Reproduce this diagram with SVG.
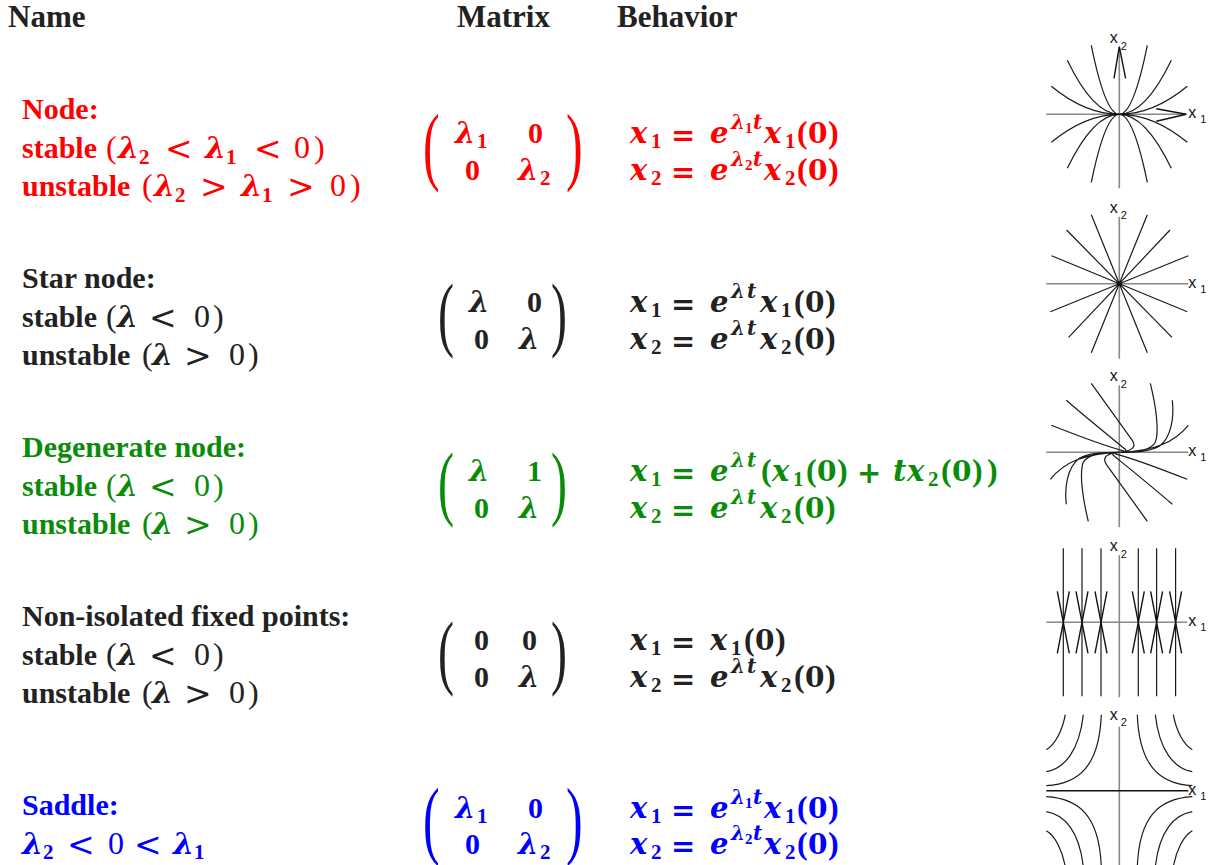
<svg xmlns="http://www.w3.org/2000/svg" width="1211" height="865" viewBox="0 0 1211 865">
<style>
.hd{font-family:"Liberation Serif",serif;font-weight:bold;font-size:31px;fill:#222}
.tx{font-family:"Liberation Serif",serif;font-weight:bold;font-size:30px}
.v{font-family:"DejaVu Serif",serif;font-weight:bold;font-style:italic;font-size:29px}
.vn{font-size:30px}
.vs{font-size:20px}
.op{font-family:"DejaVu Serif",serif;font-weight:bold;font-size:29px}
.z{font-family:"DejaVu Serif",serif;font-weight:bold;font-size:28px}
.rel{font-family:"DejaVu Serif",serif;font-weight:normal;font-size:33px}
.rg{font-weight:normal}
.pn{font-weight:normal;font-size:32px}
.bp{font-size:32px}
.s{font-size:21px}
.ss{font-size:15px}
.big{font-family:"Liberation Serif",serif;font-weight:normal;font-size:50px}
.sm{font-family:"Liberation Serif",serif;font-weight:normal;font-size:48px}
.red{fill:#ff0000}
.blk{fill:#222222}
.grn{fill:#0a8c0a}
.blu{fill:#0000ff}
.cv{fill:none;stroke:#1a1a1a;stroke-width:1.2}
.ar{fill:none;stroke:#111;stroke-width:1.4}
.ax{fill:none;stroke:#888;stroke-width:1.6}
.axk{fill:none;stroke:#111;stroke-width:1.4}
.lb{font-family:"Liberation Sans",sans-serif;font-size:16px;fill:#111}
.lbs{font-family:"Liberation Sans",sans-serif;font-size:11px;fill:#111}
</style>

<g id="header">
<text class="hd" x="8" y="27">Name</text>
<text class="hd" x="457" y="27">Matrix</text>
<text class="hd" x="617" y="27">Behavior</text>
</g>

<!-- Row 1: Node -->
<g id="row-node">
<text class="tx red" x="22" y="119">Node:</text>
<text class="tx red"><tspan x="22" y="158">stable</tspan><tspan class="pn" x="106" y="158">(</tspan><tspan class="v vn" x="118" y="158">λ</tspan><tspan class="s" x="139" y="164">2</tspan><tspan class="rel" x="165" y="160">&lt;</tspan><tspan class="v vn" x="205" y="158">λ</tspan><tspan class="s" x="226" y="164">1</tspan><tspan class="rel" x="254" y="160">&lt;</tspan><tspan class="rg" font-size="32" x="294" y="158">0</tspan><tspan class="pn" x="314" y="158">)</tspan></text>
<text class="tx red"><tspan x="22" y="196">unstable</tspan><tspan class="pn" x="142" y="196">(</tspan><tspan class="v vn" x="154" y="196">λ</tspan><tspan class="s" x="175" y="202">2</tspan><tspan class="rel" x="200" y="198">&gt;</tspan><tspan class="v vn" x="241" y="196">λ</tspan><tspan class="s" x="262" y="202">1</tspan><tspan class="rel" x="287" y="198">&gt;</tspan><tspan class="rg" font-size="32" x="330" y="196">0</tspan><tspan class="pn" x="350" y="196">)</tspan></text>
<text class="big red" transform="translate(423,173.7) scale(1,1.75)">(</text>
<text class="big red" transform="translate(566,173.7) scale(1,1.75)">)</text>
<text class="tx red"><tspan class="v" x="455" y="143">λ</tspan><tspan class="s" x="477" y="148">1</tspan><tspan x="528" y="143">0</tspan></text>
<text class="tx red"><tspan x="465" y="180">0</tspan><tspan class="v" x="518" y="180">λ</tspan><tspan class="s" x="540" y="185">2</tspan></text>
<text class="tx red"><tspan class="v" x="630" y="143">x</tspan><tspan class="s" x="651" y="148">1</tspan><tspan class="op" x="671" y="145">=</tspan><tspan class="v" x="710" y="143">e</tspan><tspan class="v vs" x="731" y="129">λ</tspan><tspan class="ss" x="745" y="133">1</tspan><tspan class="v vs" x="753" y="129">t</tspan><tspan class="v" x="764" y="143">x</tspan><tspan class="s" x="785" y="148">1</tspan><tspan class="bp" x="797" y="143">(</tspan><tspan class="z" x="808" y="143">0</tspan><tspan class="bp" x="828" y="143">)</tspan></text>
<text class="tx red"><tspan class="v" x="630" y="180">x</tspan><tspan class="s" x="651" y="185">2</tspan><tspan class="op" x="671" y="182">=</tspan><tspan class="v" x="710" y="180">e</tspan><tspan class="v vs" x="731" y="166">λ</tspan><tspan class="ss" x="745" y="170">2</tspan><tspan class="v vs" x="753" y="166">t</tspan><tspan class="v" x="764" y="180">x</tspan><tspan class="s" x="785" y="185">2</tspan><tspan class="bp" x="797" y="180">(</tspan><tspan class="z" x="808" y="180">0</tspan><tspan class="bp" x="828" y="180">)</tspan></text>
</g>

<!-- Row 2: Star node -->
<g id="row-star">
<text class="tx blk" x="22" y="288">Star node:</text>
<text class="tx blk"><tspan x="22" y="327">stable</tspan><tspan class="pn" x="106" y="327">(</tspan><tspan class="v vn" x="117" y="327">λ</tspan><tspan class="rel" x="149" y="329">&lt;</tspan><tspan class="rg" font-size="32" x="194" y="327">0</tspan><tspan class="pn" x="213" y="327">)</tspan></text>
<text class="tx blk"><tspan x="22" y="365">unstable</tspan><tspan class="pn" x="142" y="365">(</tspan><tspan class="v vn" x="152" y="365">λ</tspan><tspan class="rel" x="184" y="367">&gt;</tspan><tspan class="rg" font-size="32" x="229" y="365">0</tspan><tspan class="pn" x="248" y="365">)</tspan></text>
<text class="sm blk" transform="translate(438,340.6) scale(1,1.7)">(</text>
<text class="sm blk" transform="translate(551,340.6) scale(1,1.7)">)</text>
<text class="tx blk"><tspan class="v" x="469" y="312">λ</tspan><tspan x="527" y="312">0</tspan></text>
<text class="tx blk"><tspan x="474" y="349">0</tspan><tspan class="v" x="519" y="349">λ</tspan></text>
<text class="tx blk"><tspan class="v" x="630" y="312">x</tspan><tspan class="s" x="651" y="317">1</tspan><tspan class="op" x="671" y="314">=</tspan><tspan class="v" x="710" y="312">e</tspan><tspan class="v vs" x="731" y="298">λ</tspan><tspan class="v vs" x="747" y="298">t</tspan><tspan class="v" x="760" y="312">x</tspan><tspan class="s" x="781" y="317">1</tspan><tspan class="bp" x="794" y="312">(</tspan><tspan class="z" x="805" y="312">0</tspan><tspan class="bp" x="825" y="312">)</tspan></text>
<text class="tx blk"><tspan class="v" x="630" y="349">x</tspan><tspan class="s" x="651" y="354">2</tspan><tspan class="op" x="671" y="351">=</tspan><tspan class="v" x="710" y="349">e</tspan><tspan class="v vs" x="731" y="335">λ</tspan><tspan class="v vs" x="747" y="335">t</tspan><tspan class="v" x="760" y="349">x</tspan><tspan class="s" x="781" y="354">2</tspan><tspan class="bp" x="794" y="349">(</tspan><tspan class="z" x="805" y="349">0</tspan><tspan class="bp" x="825" y="349">)</tspan></text>
</g>

<!-- Row 3: Degenerate node -->
<g id="row-degenerate">
<text class="tx grn" x="22" y="457">Degenerate node:</text>
<text class="tx grn"><tspan x="22" y="496">stable</tspan><tspan class="pn" x="106" y="496">(</tspan><tspan class="v vn" x="117" y="496">λ</tspan><tspan class="rel" x="149" y="498">&lt;</tspan><tspan class="rg" font-size="32" x="194" y="496">0</tspan><tspan class="pn" x="213" y="496">)</tspan></text>
<text class="tx grn"><tspan x="22" y="534">unstable</tspan><tspan class="pn" x="142" y="534">(</tspan><tspan class="v vn" x="152" y="534">λ</tspan><tspan class="rel" x="184" y="536">&gt;</tspan><tspan class="rg" font-size="32" x="229" y="534">0</tspan><tspan class="pn" x="248" y="534">)</tspan></text>
<text class="sm grn" transform="translate(438,509.6) scale(1,1.7)">(</text>
<text class="sm grn" transform="translate(551,509.6) scale(1,1.7)">)</text>
<text class="tx grn"><tspan class="v" x="469" y="481">λ</tspan><tspan x="527" y="481">1</tspan></text>
<text class="tx grn"><tspan x="474" y="518">0</tspan><tspan class="v" x="519" y="518">λ</tspan></text>
<text class="tx grn"><tspan class="v" x="630" y="481">x</tspan><tspan class="s" x="651" y="486">1</tspan><tspan class="op" x="671" y="483">=</tspan><tspan class="v" x="710" y="481">e</tspan><tspan class="v vs" x="731" y="467">λ</tspan><tspan class="v vs" x="747" y="467">t</tspan><tspan class="bp" x="761" y="481">(</tspan><tspan class="v" x="772" y="481">x</tspan><tspan class="s" x="793" y="486">1</tspan><tspan class="bp" x="806" y="481">(</tspan><tspan class="z" x="817" y="481">0</tspan><tspan class="bp" x="837" y="481">)</tspan><tspan class="op" x="857" y="483">+</tspan><tspan class="v" x="893" y="481">t</tspan><tspan class="v" x="907" y="481">x</tspan><tspan class="s" x="928" y="486">2</tspan><tspan class="bp" x="941" y="481">(</tspan><tspan class="z" x="952" y="481">0</tspan><tspan class="bp" x="972" y="481">)</tspan><tspan class="bp" x="987" y="481">)</tspan></text>
<text class="tx grn"><tspan class="v" x="630" y="518">x</tspan><tspan class="s" x="651" y="523">2</tspan><tspan class="op" x="671" y="520">=</tspan><tspan class="v" x="710" y="518">e</tspan><tspan class="v vs" x="731" y="504">λ</tspan><tspan class="v vs" x="747" y="504">t</tspan><tspan class="v" x="760" y="518">x</tspan><tspan class="s" x="781" y="523">2</tspan><tspan class="bp" x="794" y="518">(</tspan><tspan class="z" x="805" y="518">0</tspan><tspan class="bp" x="825" y="518">)</tspan></text>
</g>

<!-- Row 4: Non-isolated fixed points -->
<g id="row-nonisolated">
<text class="tx blk" x="22" y="626">Non-isolated fixed points:</text>
<text class="tx blk"><tspan x="22" y="665">stable</tspan><tspan class="pn" x="106" y="665">(</tspan><tspan class="v vn" x="117" y="665">λ</tspan><tspan class="rel" x="149" y="667">&lt;</tspan><tspan class="rg" font-size="32" x="194" y="665">0</tspan><tspan class="pn" x="213" y="665">)</tspan></text>
<text class="tx blk"><tspan x="22" y="703">unstable</tspan><tspan class="pn" x="142" y="703">(</tspan><tspan class="v vn" x="152" y="703">λ</tspan><tspan class="rel" x="184" y="705">&gt;</tspan><tspan class="rg" font-size="32" x="229" y="703">0</tspan><tspan class="pn" x="248" y="703">)</tspan></text>
<text class="sm blk" transform="translate(438,678.6) scale(1,1.7)">(</text>
<text class="sm blk" transform="translate(551,678.6) scale(1,1.7)">)</text>
<text class="tx blk"><tspan x="474" y="650">0</tspan><tspan x="522" y="650">0</tspan></text>
<text class="tx blk"><tspan x="474" y="687">0</tspan><tspan class="v" x="519" y="687">λ</tspan></text>
<text class="tx blk"><tspan class="v" x="630" y="650">x</tspan><tspan class="s" x="651" y="655">1</tspan><tspan class="op" x="671" y="652">=</tspan><tspan class="v" x="710" y="650">x</tspan><tspan class="s" x="731" y="655">1</tspan><tspan class="bp" x="744" y="650">(</tspan><tspan class="z" x="755" y="650">0</tspan><tspan class="bp" x="775" y="650">)</tspan></text>
<text class="tx blk"><tspan class="v" x="630" y="687">x</tspan><tspan class="s" x="651" y="692">2</tspan><tspan class="op" x="671" y="689">=</tspan><tspan class="v" x="710" y="687">e</tspan><tspan class="v vs" x="731" y="673">λ</tspan><tspan class="v vs" x="747" y="673">t</tspan><tspan class="v" x="760" y="687">x</tspan><tspan class="s" x="781" y="692">2</tspan><tspan class="bp" x="794" y="687">(</tspan><tspan class="z" x="805" y="687">0</tspan><tspan class="bp" x="825" y="687">)</tspan></text>
</g>

<!-- Row 5: Saddle -->
<g id="row-saddle">
<text class="tx blu" x="22" y="815">Saddle:</text>
<text class="tx blu"><tspan class="v vn" x="22" y="854">λ</tspan><tspan class="s" x="43" y="859">2</tspan><tspan class="rel" x="67" y="856">&lt;</tspan><tspan class="rg" font-size="32" x="108" y="854">0</tspan><tspan class="rel" x="134" y="856">&lt;</tspan><tspan class="v vn" x="173" y="854">λ</tspan><tspan class="s" x="194" y="859">1</tspan></text>
<text class="big blu" transform="translate(423,847.5) scale(1,1.75)">(</text>
<text class="big blu" transform="translate(566,847.5) scale(1,1.75)">)</text>
<text class="tx blu"><tspan class="v" x="455" y="818">λ</tspan><tspan class="s" x="477" y="823">1</tspan><tspan x="528" y="818">0</tspan></text>
<text class="tx blu"><tspan x="465" y="854">0</tspan><tspan class="v" x="518" y="854">λ</tspan><tspan class="s" x="540" y="859">2</tspan></text>
<text class="tx blu"><tspan class="v" x="630" y="818">x</tspan><tspan class="s" x="651" y="823">1</tspan><tspan class="op" x="671" y="820">=</tspan><tspan class="v" x="710" y="818">e</tspan><tspan class="v vs" x="731" y="804">λ</tspan><tspan class="ss" x="745" y="808">1</tspan><tspan class="v vs" x="753" y="804">t</tspan><tspan class="v" x="764" y="818">x</tspan><tspan class="s" x="785" y="823">1</tspan><tspan class="bp" x="797" y="818">(</tspan><tspan class="z" x="808" y="818">0</tspan><tspan class="bp" x="828" y="818">)</tspan></text>
<text class="tx blu"><tspan class="v" x="630" y="854">x</tspan><tspan class="s" x="651" y="859">2</tspan><tspan class="op" x="671" y="856">=</tspan><tspan class="v" x="710" y="854">e</tspan><tspan class="v vs" x="731" y="840">λ</tspan><tspan class="ss" x="745" y="844">2</tspan><tspan class="v vs" x="753" y="840">t</tspan><tspan class="v" x="764" y="854">x</tspan><tspan class="s" x="785" y="859">2</tspan><tspan class="bp" x="797" y="854">(</tspan><tspan class="z" x="808" y="854">0</tspan><tspan class="bp" x="828" y="854">)</tspan></text>
</g>

<!-- Phase portraits -->
<g id="portrait-node" transform="translate(1119.3,114.3)">
<path class="ax" d="M-73,0 H67 M0,-67 V74"/>
<path class="cv" d="M-28,-69 Q0,69 28,-69 M-52,-54 Q0,54 52,-54 M-68,-28 Q0,28 68,-28 M-28,68 Q0,-68 28,68 M-52,54 Q0,-54 52,54 M-68,28 Q0,-28 68,28"/>
<path class="axk" stroke-width="2.5" d="M-7,0 H6"/>
<path class="ar" d="M37,-5.5 L67,0 L37,7 M-5.3,-36 L0,-67.7 L6.3,-36"/>
<text class="lb" x="-9.5" y="-71">x</text><text class="lbs" x="1.5" y="-64.5">2</text>
<text class="lb" x="69" y="4">x</text><text class="lbs" x="81" y="9">1</text>
</g>

<g id="portrait-star" transform="translate(1119.3,283.7)">
<path class="ax" d="M-73,0 H69 M0,-67 V75"/>
<path class="cv" d="M-28,-69 L28,69 M28,-69 L-28,69 M-52.7,-53.7 L52.7,53.7 M50.7,-53.7 L-50.7,53.7 M-67.7,-28 L68,28 M69,-28 L-69,28"/>
<circle cx="0" cy="0" r="2.3" fill="#111"/>
<text class="lb" x="-9.5" y="-71">x</text><text class="lbs" x="1.5" y="-64.5">2</text>
<text class="lb" x="69" y="4">x</text><text class="lbs" x="81" y="9">1</text>
</g>

<g id="portrait-degenerate" transform="translate(1119.3,452.3)">
<path class="ax" d="M-73,0 H69 M0,-67 V75"/>
<path class="cv" d="M-28,-69 L13,-12 C17,-6 14,-1 0,0 M-53,-52 C-30,-32 0,-8 6,-3 C8,-1 4,0 0,0 M-68,-27 C-40,-16 -10,-5 4,-1.5 C6,-0.8 3,0 0,0 M31,-69 C37,-45 40,-20 36,-10 C32,-2 15,0 0,0 M53,-52 C55,-35 52,-15 40,-6 C30,0 12,0 0,0 M69,-27 C55,-10 35,-1 0,0"/>
<path class="cv" transform="rotate(180)" d="M-28,-69 L13,-12 C17,-6 14,-1 0,0 M-53,-52 C-30,-32 0,-8 6,-3 C8,-1 4,0 0,0 M-68,-27 C-40,-16 -10,-5 4,-1.5 C6,-0.8 3,0 0,0 M31,-69 C37,-45 40,-20 36,-10 C32,-2 15,0 0,0 M53,-52 C55,-35 52,-15 40,-6 C30,0 12,0 0,0 M69,-27 C55,-10 35,-1 0,0"/>
<text class="lb" x="-9.5" y="-71">x</text><text class="lbs" x="1.5" y="-64.5">2</text>
<text class="lb" x="69" y="4">x</text><text class="lbs" x="81" y="9">1</text>
</g>

<g id="portrait-nonisolated" transform="translate(1119.3,622.3)">
<path class="ax" d="M-73,0 H68 M0,-67 V75"/>
<path class="cv" d="M-56,-74 V74 M-37.3,-74 V74 M-18.3,-74 V74 M19,-74 V74 M37.3,-74 V74 M56.3,-74 V74"/>
<path class="ar" d="M-62,-31 L-56,0 L-50,-31 M-62,31 L-56,0 L-50,31 M-43.3,-31 L-37.3,0 L-31.3,-31 M-43.3,31 L-37.3,0 L-31.3,31 M-24.3,-31 L-18.3,0 L-12.3,-31 M-24.3,31 L-18.3,0 L-12.3,31 M13,-31 L19,0 L25,-31 M13,31 L19,0 L25,31 M31.3,-31 L37.3,0 L43.3,-31 M31.3,31 L37.3,0 L43.3,31 M50.3,-31 L56.3,0 L62.3,-31 M50.3,31 L56.3,0 L62.3,31"/>
<text class="lb" x="-9.5" y="-71">x</text><text class="lbs" x="1.5" y="-64.5">2</text>
<text class="lb" x="69" y="4">x</text><text class="lbs" x="81" y="9">1</text>
</g>

<g id="portrait-saddle" transform="translate(1119.3,790.7)">
<path class="ax" d="M0,-64 V76"/>
<path class="axk" d="M-73,0 H69"/>
<path class="cv" d="M-73,-5 C-40,-7 -20,-25 -18,-76 M-73,-19 C-55,-22 -40,-40 -36,-76 M-73,-41 C-64,-46 -57,-60 -54,-76 M73,-5 C40,-7 20,-25 18,-76 M73,-19 C55,-22 40,-40 36,-76 M73,-41 C64,-46 57,-60 54,-76 M-73,6 C-40,8 -20,25 -18,76 M-73,21 C-55,24 -40,40 -36,76 M-73,40 C-64,45 -57,60 -54,76 M73,6 C40,8 20,25 18,76 M73,21 C55,24 40,40 36,76 M73,40 C64,45 57,60 54,76"/>
<text class="lb" x="-9.5" y="-71">x</text><text class="lbs" x="1.5" y="-64.5">2</text>
<text class="lb" x="69" y="4">x</text><text class="lbs" x="81" y="9">1</text>
</g>
</svg>
